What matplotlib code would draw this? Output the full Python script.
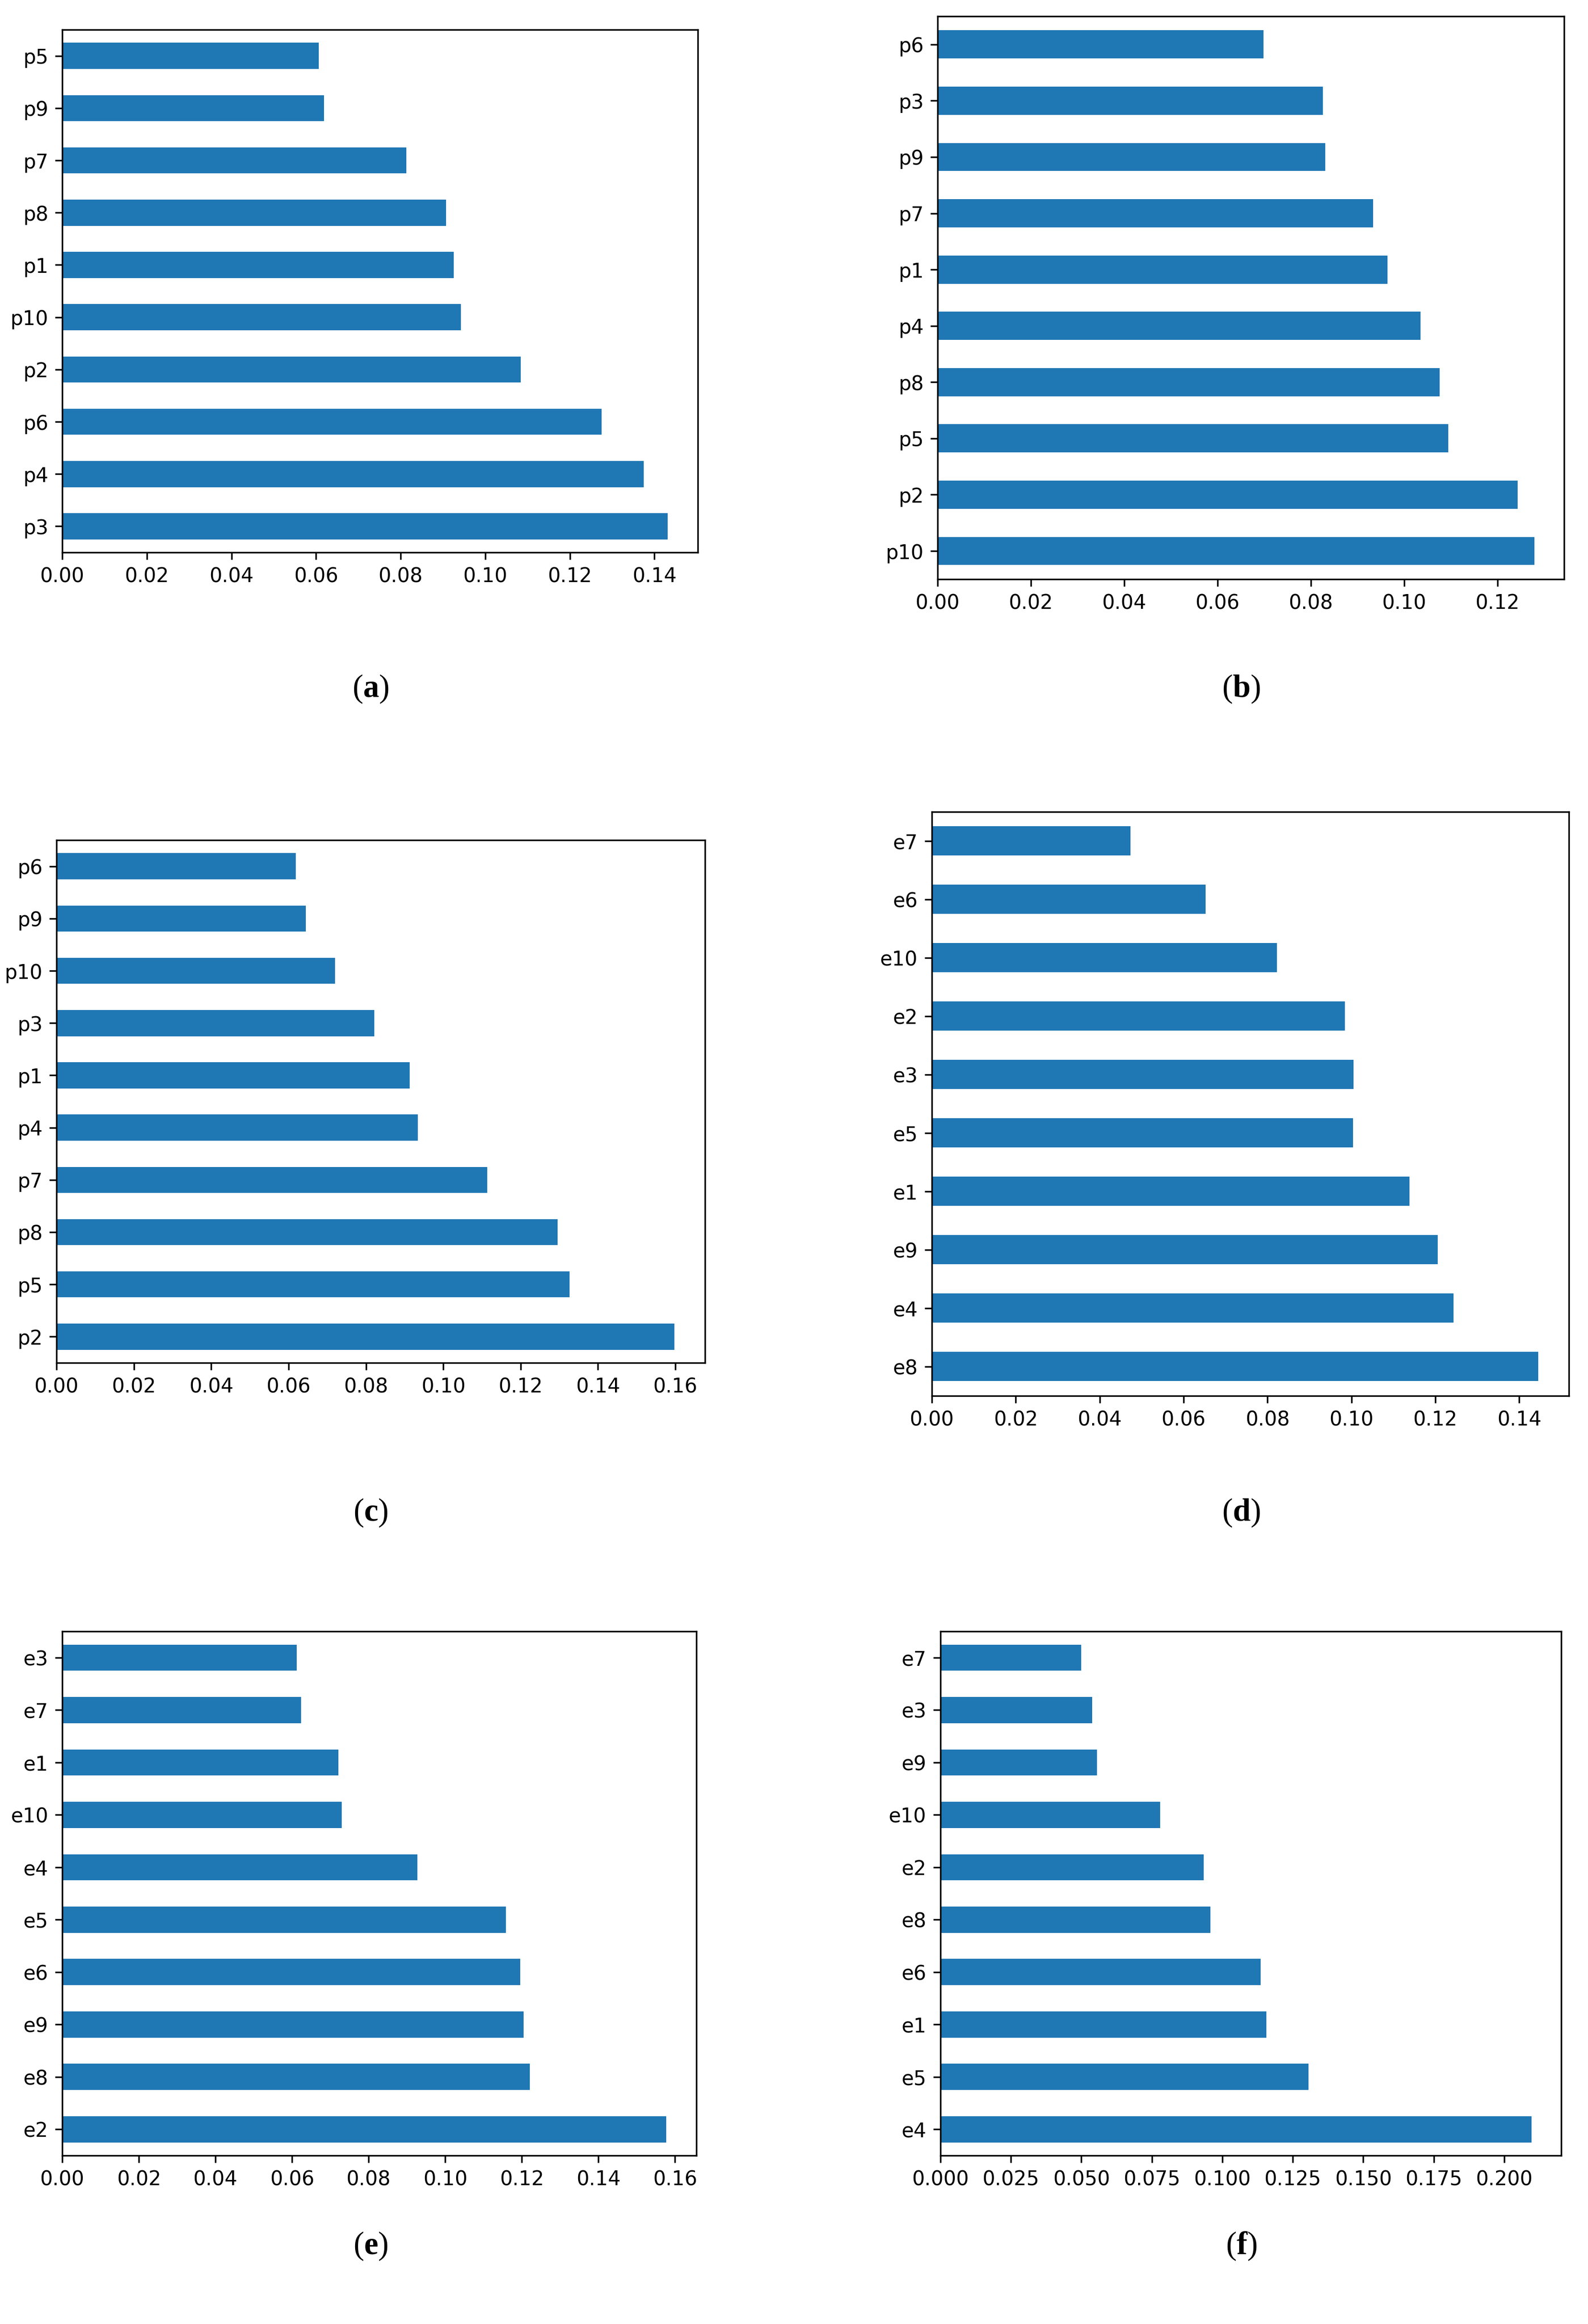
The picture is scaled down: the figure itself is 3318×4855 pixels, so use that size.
import matplotlib
matplotlib.use("Agg")
import matplotlib.pyplot as plt

plt.rcParams['mathtext.fontset'] = 'custom'
plt.rcParams['mathtext.rm'] = 'Liberation Serif'
plt.rcParams['mathtext.bf'] = 'Liberation Serif:bold'

# feature importances, listed from bottom bar to top bar
labels_a = ['p3', 'p4', 'p6', 'p2', 'p10', 'p1', 'p8', 'p7', 'p9', 'p5']
values_a = [0.1431, 0.1375, 0.1275, 0.1084, 0.0942, 0.0926, 0.0907, 0.0813, 0.0619, 0.0607]

labels_b = ['p10', 'p2', 'p5', 'p8', 'p4', 'p1', 'p7', 'p9', 'p3', 'p6']
values_b = [0.1279, 0.1244, 0.1095, 0.1076, 0.1035, 0.0964, 0.0934, 0.0831, 0.0826, 0.0699]

labels_c = ['p2', 'p5', 'p8', 'p7', 'p4', 'p1', 'p3', 'p10', 'p9', 'p6']
values_c = [0.1597, 0.1326, 0.1296, 0.1113, 0.0934, 0.0913, 0.0822, 0.0720, 0.0645, 0.0619]

labels_d = ['e8', 'e4', 'e9', 'e1', 'e5', 'e3', 'e2', 'e10', 'e6', 'e7']
values_d = [0.1446, 0.1243, 0.1206, 0.1138, 0.1004, 0.1005, 0.0985, 0.0822, 0.0652, 0.0474]

labels_e = ['e2', 'e8', 'e9', 'e6', 'e5', 'e4', 'e10', 'e1', 'e7', 'e3']
values_e = [0.1577, 0.1221, 0.1205, 0.1196, 0.1158, 0.0927, 0.0730, 0.0721, 0.0624, 0.0612]

labels_f = ['e4', 'e5', 'e1', 'e6', 'e8', 'e2', 'e10', 'e9', 'e3', 'e7']
values_f = [0.2097, 0.1306, 0.1157, 0.1136, 0.0958, 0.0934, 0.0780, 0.0555, 0.0539, 0.0500]

panel_names = ['a', 'b', 'c', 'd', 'e', 'f']

fig = plt.figure(figsize=(3318 / 300, 4855 / 300), dpi=300)

# axes rectangles in figure fractions
rects = [
    [0.0392, 0.7623, 0.4002, 0.2249],
    [0.5904, 0.7508, 0.3945, 0.2422],
    [0.0356, 0.4136, 0.4084, 0.2249],
    [0.5868, 0.3994, 0.4011, 0.2513],
    [0.0392, 0.0725, 0.3993, 0.2255],
    [0.5922, 0.0725, 0.3909, 0.2255],
]
label_pos = [(0.2333, 0.7036), (0.7817, 0.7036),
             (0.2333, 0.3491), (0.7817, 0.3491),
             (0.2333, 0.0336), (0.7817, 0.0336)]

data = [(labels_a, values_a), (labels_b, values_b), (labels_c, values_c),
        (labels_d, values_d), (labels_e, values_e), (labels_f, values_f)]

for i in range(6):
    labels, values = data[i]
    ax = fig.add_axes(rects[i])
    ax.barh(range(len(values)), values, height=0.5, color='#1f77b4')
    ax.set_yticks(range(len(labels)))
    ax.set_yticklabels(labels)
    ax.set_ylim(-0.5, len(labels) - 0.5)
    ax.set_xlim(0, max(values) * 1.05)
    ax.tick_params(labelsize=10)
    lx, ly = label_pos[i]
    fig.text(lx, ly, '($\\mathbf{' + panel_names[i] + '}$)', family='Liberation Serif',
             fontsize=16, ha='center', va='center')

fig.savefig('out.png', dpi=300)
